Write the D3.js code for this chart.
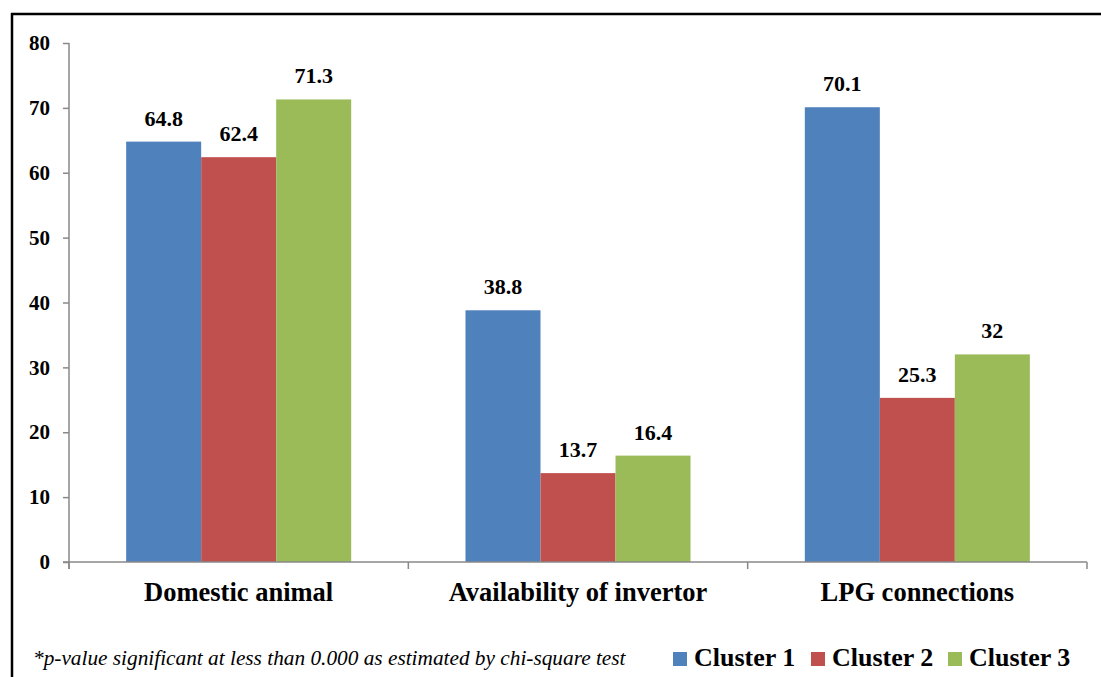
<!DOCTYPE html>
<html>
<head>
<meta charset="utf-8">
<script src="https://cdn.jsdelivr.net/npm/d3@7/dist/d3.min.js"></script>
<style>
  html, body { margin: 0; padding: 0; background: #fff; }
  svg { display: block; }
</style>
</head>
<body>
<svg id="chart" width="1101" height="677"></svg>
<script>
// Household amenities by cluster (%)
const categories = ["Domestic animal", "Availability of invertor", "LPG connections"];
const seriesNames = ["Cluster 1", "Cluster 2", "Cluster 3"];
const cluster1 = [64.8, 38.8, 70.1];
const cluster2 = [62.4, 13.7, 25.3];
const cluster3 = [71.3, 16.4, 32];
const yTicks = [0, 10, 20, 30, 40, 50, 60, 70, 80];
const colors = ["#4F81BD", "#C0504D", "#9BBB59"];
const footnote = "*p-value significant at less than 0.000 as estimated by chi-square test";

const FONT = "Liberation Serif";
const seriesValues = [cluster1, cluster2, cluster3];
const rows = categories.map((c, i) => ({
  category: c,
  values: seriesNames.map((s, j) => ({ series: s, idx: j, value: seriesValues[j][i] }))
}));

const svg = d3.select("#chart");

// outer frame (left and top edges)
svg.append("line").attr("x1", 12).attr("x2", 12).attr("y1", 13).attr("y2", 677)
  .attr("stroke", "#000").attr("stroke-width", 2.5);
svg.append("line").attr("x1", 11).attr("x2", 1101).attr("y1", 14).attr("y2", 14)
  .attr("stroke", "#000").attr("stroke-width", 2.5);

const x0 = d3.scaleBand().domain(categories).range([69, 1087]).paddingInner(0).paddingOuter(0);
const x1 = d3.scaleBand().domain(seriesNames).range([0, x0.bandwidth()]).paddingInner(0).paddingOuter(0.762);
const y = d3.scaleLinear().domain([0, 80]).range([562, 43]);

// bars
const groups = svg.append("g").selectAll("g").data(rows).join("g")
  .attr("transform", d => `translate(${x0(d.category)},0)`);

groups.selectAll("rect").data(d => d.values).join("rect")
  .attr("x", d => x1(d.series))
  .attr("y", d => y(d.value))
  .attr("width", x1.bandwidth())
  .attr("height", d => y(0) - y(d.value))
  .attr("fill", d => colors[d.idx]);

// value labels
groups.selectAll("text.val").data(d => d.values).join("text")
  .attr("class", "val")
  .attr("x", d => x1(d.series) + x1.bandwidth() / 2)
  .attr("y", d => y(d.value) - 16)
  .attr("text-anchor", "middle")
  .style("font-family", FONT).style("font-size", "22px").style("font-weight", "bold")
  .attr("fill", "#000")
  .text(d => String(d.value));

// y axis
const yAxis = svg.append("g").attr("transform", "translate(69,0)")
  .call(d3.axisLeft(y).tickValues(yTicks).tickSize(6).tickPadding(13).tickFormat(d3.format("d")));
yAxis.select(".domain").attr("stroke", "#888").attr("stroke-width", 1.5).attr("d", "M0,43V569");
yAxis.selectAll(".tick line").attr("stroke", "#888").attr("stroke-width", 1.5);
yAxis.selectAll(".tick text")
  .style("font-family", FONT).style("font-size", "21px").style("font-weight", "bold")
  .attr("fill", "#000");

// x axis with boundary ticks
const xAxis = svg.append("g");
xAxis.append("line").attr("x1", 63).attr("x2", 1087).attr("y1", y(0)).attr("y2", y(0))
  .attr("stroke", "#888").attr("stroke-width", 1.5);
const bounds = categories.map(c => x0(c)).concat([x0.range()[1]]);
xAxis.selectAll("line.tk").data(bounds).join("line")
  .attr("class", "tk")
  .attr("x1", d => d).attr("x2", d => d)
  .attr("y1", y(0)).attr("y2", y(0) + 7)
  .attr("stroke", "#888").attr("stroke-width", 1.5);
xAxis.selectAll("text").data(categories).join("text")
  .attr("x", d => x0(d) + x0.bandwidth() / 2)
  .attr("y", 601)
  .attr("text-anchor", "middle")
  .style("font-family", FONT).style("font-size", "26.5px").style("font-weight", "bold")
  .attr("fill", "#000")
  .text(d => d);

// footnote
svg.append("text").attr("x", 33).attr("y", 665)
  .style("font-family", FONT).style("font-size", "21.3px").style("font-style", "italic")
  .attr("fill", "#000")
  .text(footnote);

// legend
const legendX = [673, 811, 948];
const legend = svg.append("g").selectAll("g").data(seriesNames).join("g")
  .attr("transform", (d, i) => `translate(${legendX[i]},0)`);
legend.append("rect").attr("x", 0).attr("y", 652).attr("width", 14).attr("height", 14)
  .attr("fill", (d, i) => colors[i]);
legend.append("text").attr("x", 21).attr("y", 666)
  .style("font-family", FONT).style("font-size", "26px").style("font-weight", "bold")
  .attr("fill", "#000")
  .text(d => d);
</script>
</body>
</html>
